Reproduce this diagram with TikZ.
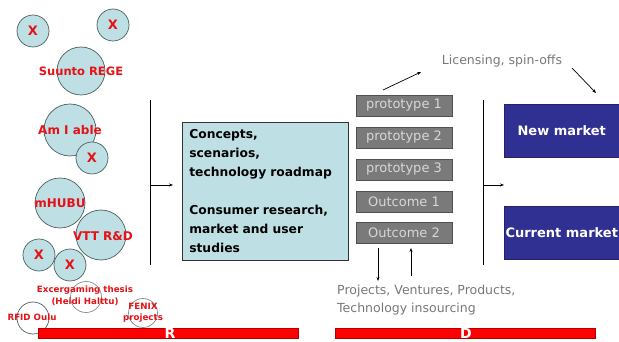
\documentclass[tikz,border=0pt]{standalone}
\usepackage{fontspec}
\setmainfont{DejaVu Sans}
\usetikzlibrary{arrows.meta}
\definecolor{bubfill}{RGB}{190,224,229}
\definecolor{bubedge}{RGB}{75,95,95}
\definecolor{redtxt}{RGB}{228,18,22}
\definecolor{protofill}{RGB}{122,122,122}
\definecolor{protoedge}{RGB}{80,80,80}
\definecolor{prototxt}{RGB}{215,215,215}
\definecolor{graytxt}{RGB}{120,120,120}
\definecolor{mktblue}{RGB}{48,48,146}
\definecolor{barred}{RGB}{255,0,0}
\begin{document}
\begin{tikzpicture}[x=1pt,y=-1pt,
  bub/.style={circle,draw=bubedge,fill=bubfill,line width=0.7pt,inner sep=0pt},
  wbub/.style={circle,draw=bubedge!70,line width=0.7pt,inner sep=0pt},
  rlab/.style={text=redtxt,font=\bfseries\fontsize{12}{13}\selectfont,inner sep=0pt},
  xlab/.style={text=redtxt,font=\bfseries\fontsize{13}{13}\selectfont,inner sep=0pt},
  slab/.style={text=redtxt,font=\bfseries\fontsize{8.7}{11.5}\selectfont,inner sep=0pt,align=center},
  pbox/.style={draw=protoedge,fill=protofill,line width=0.6pt,minimum width=96pt,minimum height=21pt,inner sep=0pt,text=prototxt,font=\fontsize{13}{13}\selectfont},
  mbox/.style={draw=mktblue!70!black,fill=mktblue,line width=0.5pt,minimum width=115pt,minimum height=53pt,inner sep=0pt,text=white,font=\bfseries\fontsize{13}{13}\selectfont,anchor=north west},
  gtext/.style={text=graytxt,font=\fontsize{12.5}{18}\selectfont,inner sep=0pt},
  arr/.style={-{Stealth[length=4pt,width=3pt]},line width=0.7pt},
  ln/.style={line width=0.7pt},
  rbar/.style={draw=barred!70!black,fill=barred,line width=0.5pt},
  barlab/.style={text=white,font=\bfseries\fontsize{14}{14}\selectfont,inner sep=0pt,anchor=north}
]
\useasboundingbox (0,0) rectangle (619,342);
% bubbles
\node[bub,minimum size=32pt] (x1) at (33,31) {};
\node[bub,minimum size=32pt] (x2) at (113,25) {};
\node[bub,minimum size=48pt] (suunto) at (81,71) {};
\node[bub,minimum size=52pt] (amiable) at (70,130) {};
\node[bub,minimum size=32pt] (x3) at (92,158) {};
\node[bub,minimum size=50pt] (mhubu) at (60,203) {};
\node[bub,minimum size=50pt] (vtt) at (101,235) {};
\node[bub,minimum size=32pt] (x4) at (39,255) {};
\node[bub,minimum size=32pt] (x5) at (70,265) {};
\node[wbub,minimum size=31pt] (exc) at (86,297) {};
\node[wbub,minimum size=32pt,draw=bubedge] (rfid) at (33,318) {};
\node[wbub,minimum size=29pt] (fenix) at (143,313) {};
% bubble labels
\node[xlab] at (x1) {X};
\node[xlab] at (x2) {X};
\node[xlab] at (x3) {X};
\node[xlab] at (x4) {X};
\node[xlab] at (x5) {X};
\node[rlab,font=\bfseries\fontsize{11.5}{13}\selectfont] (suuntot) at (81,71) {Suunto REGE};
\node[rlab] (amiablet) at (70,130) {Am I able};
\node[rlab] (mhubut) at (60,203) {mHUBU};
\node[rlab] (vttt) at (103,236) {VTT R\&D};
\node[slab] (exct) at (85,296) {Excergaming thesis\\(Heidi Halttu)};
\node[slab] (rfidt) at (32,317) {RFID Oulu};
\node[slab] (fenixt) at (143,313) {FENIX\\projects};
% left vertical line and arrow
\coordinate (l1t) at (150,100);
\coordinate (l1b) at (150,265);
\coordinate (l1m) at (150,185);
\coordinate (l1e) at (173,185);
\draw[ln] (l1t) -- (l1b);
\draw[arr] (l1m) -- (l1e);
% concept box
\node[draw=black!80,fill=bubfill,line width=0.6pt,anchor=north west,minimum width=160pt,minimum height=138pt,
  text width=152pt,inner xsep=7pt,inner ysep=0pt,align=left,
  font=\bfseries\fontsize{12.3}{19}\selectfont] (concept) at (182,122)
  {Concepts,\\scenarios,\\technology roadmap\\[19pt]Consumer research,\\market and user\\studies};
% prototypes
\node[pbox] (p1) at (404,105.5) {prototype 1};
\node[pbox] (p2) at (404,137.5) {prototype 2};
\node[pbox] (p3) at (404,169.5) {prototype 3};
\node[pbox] (o1) at (404,201.5) {Outcome 1};
\node[pbox] (o2) at (404,232.5) {Outcome 2};
% arrows below outcome 2
\coordinate (dt) at (378,248);
\coordinate (db) at (378,281);
\coordinate (ub) at (411,276);
\coordinate (ut) at (411,248);
\draw[arr] (dt) -- (db);
\draw[arr] (ub) -- (ut);
\node[gtext,anchor=north west,align=left] (proj) at (337,285) {Projects, Ventures, Products,\\Technology insourcing};
% licensing
\coordinate (la1) at (383,90);
\coordinate (la2) at (421,72);
\draw[arr] (la1) -- (la2);
\node[gtext] (lic) at (502,61) {Licensing, spin-offs};
\coordinate (lb1) at (572,68);
\coordinate (lb2) at (596,93);
\draw[arr] (lb1) -- (lb2);
% right vertical line and arrow
\coordinate (l2t) at (483,100);
\coordinate (l2b) at (483,265);
\coordinate (l2m) at (483,185);
\coordinate (l2e) at (504,185);
\draw[ln] (l2t) -- (l2b);
\draw[arr] (l2m) -- (l2e);
% markets
\node[mbox] (newm) at (504,104) {New market};
\node[mbox] (curm) at (504,206) {Current market};
% bars
\draw[rbar] (38,328.5) rectangle (298,338.5);
\draw[rbar] (335,328.5) rectangle (595,338.5);
\node[barlab] (rlabel) at (170,328) {R};
\node[barlab] (dlabel) at (466,328) {D};
\end{tikzpicture}
\end{document}
